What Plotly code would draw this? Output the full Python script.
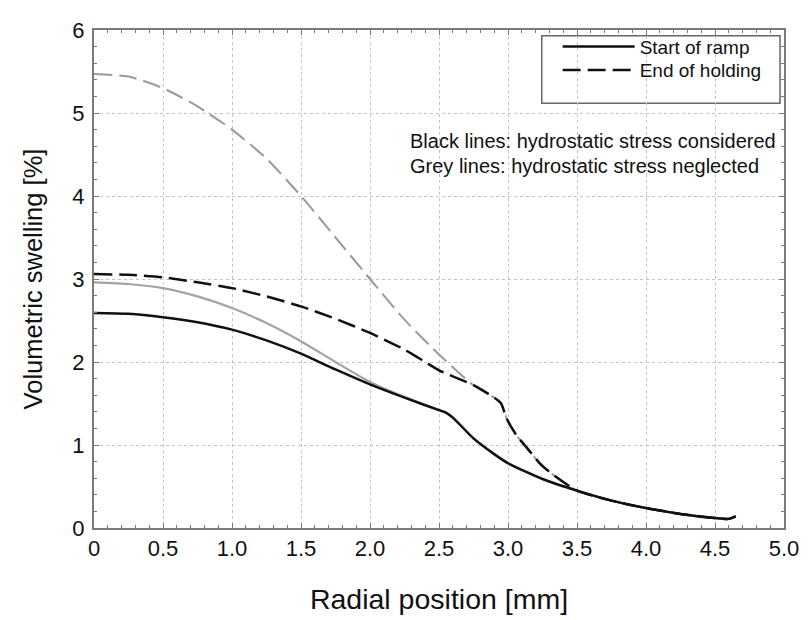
import plotly.graph_objects as go

# Start of ramp, hydrostatic stress considered (black solid)
x_ramp = [0, 0.25, 0.5, 0.75, 1.0, 1.25, 1.5, 1.75, 2.0, 2.25, 2.5, 2.55, 2.6, 2.75,
          2.9, 3.0, 3.25, 3.5, 3.75, 4.0, 4.25, 4.5, 4.6, 4.65]
y_ramp = [2.59, 2.58, 2.54, 2.48, 2.39, 2.26, 2.10, 1.91, 1.73, 1.57, 1.42, 1.39, 1.33, 1.08,
          0.89, 0.78, 0.59, 0.45, 0.33, 0.24, 0.17, 0.12, 0.11, 0.14]

# Start of ramp, hydrostatic stress neglected (grey solid)
x_ramp_ng = [0, 0.25, 0.5, 0.75, 1.0, 1.25, 1.5, 1.75, 2.0, 2.25, 2.5, 2.55, 2.6, 2.75,
             2.9, 3.0, 3.25, 3.5, 3.75, 4.0, 4.25, 4.5, 4.6, 4.65]
y_ramp_ng = [2.96, 2.94, 2.89, 2.79, 2.65, 2.47, 2.25, 2.00, 1.76, 1.58, 1.42, 1.39, 1.33, 1.08,
             0.89, 0.78, 0.59, 0.45, 0.33, 0.24, 0.17, 0.12, 0.11, 0.14]

# End of holding, hydrostatic stress considered (black dashed)
x_hold = [0, 0.25, 0.5, 0.75, 1.0, 1.25, 1.5, 1.75, 2.0, 2.25, 2.4, 2.5, 2.75, 2.9, 2.95,
          2.99, 3.06, 3.13, 3.23, 3.32, 3.5, 3.75, 4.0, 4.25, 4.5, 4.6, 4.65]
y_hold = [3.06, 3.05, 3.02, 2.96, 2.89, 2.79, 2.67, 2.52, 2.35, 2.15, 2.00, 1.90, 1.72, 1.57, 1.50,
          1.32, 1.12, 0.98, 0.78, 0.65, 0.45, 0.33, 0.24, 0.17, 0.12, 0.11, 0.14]

# End of holding, hydrostatic stress neglected (grey dashed)
x_hold_ng = [0, 0.25, 0.5, 0.75, 1.0, 1.25, 1.5, 1.75, 2.0, 2.25, 2.5, 2.75, 2.9, 2.95,
             2.99, 3.06, 3.13, 3.23, 3.32, 3.5, 3.75, 4.0, 4.25, 4.5, 4.6, 4.65]
y_hold_ng = [5.47, 5.44, 5.30, 5.08, 4.80, 4.45, 4.00, 3.50, 3.00, 2.51, 2.09, 1.72, 1.57, 1.50,
             1.32, 1.12, 0.98, 0.78, 0.65, 0.45, 0.33, 0.24, 0.17, 0.12, 0.11, 0.14]

x_ticks = [0, 0.5, 1.0, 1.5, 2.0, 2.5, 3.0, 3.5, 4.0, 4.5, 5.0]
x_ticktext = ['0', '0.5', '1.0', '1.5', '2.0', '2.5', '3.0', '3.5', '4.0', '4.5', '5.0']

FONT = 'Liberation Sans, Arial, sans-serif'
DASH = '18px,7px'
AXIS_GREY = '#7a7a7a'

# page body adds an 8px offset, so the figure is 8px smaller than the window
W, H = 801, 612
L, R, T, B = 86, 20, 10, 92
PW, PH = W - L - R, H - T - B


def px_x(p):
    # window pixel -> paper x
    return (p - 8 - L) / PW


def px_y(p):
    # window pixel -> paper y
    return 1 - (p - 8 - T) / PH


fig = go.Figure()

# grey curves first so the black ones sit on top
fig.add_trace(go.Scatter(x=x_hold_ng, y=y_hold_ng, mode='lines', showlegend=False,
                         line=dict(color='#9a9a9a', width=2, dash=DASH, shape='spline', smoothing=0.6)))
fig.add_trace(go.Scatter(x=x_ramp_ng, y=y_ramp_ng, mode='lines', showlegend=False,
                         line=dict(color='#a3a3a3', width=2.2, shape='spline', smoothing=0.6)))
fig.add_trace(go.Scatter(x=x_ramp, y=y_ramp, mode='lines', name='Start of ramp', legend='legend',
                         line=dict(color='#111111', width=2.5, shape='spline', smoothing=0.6)))
fig.add_trace(go.Scatter(x=x_hold, y=y_hold, mode='lines', name='End of holding', legend='legend2',
                         line=dict(color='#111111', width=2.5, dash=DASH, shape='spline', smoothing=0.6)))

axis_common = dict(
    showgrid=True, griddash='dot', gridcolor='#c4c4c4', gridwidth=1,
    showline=True, linecolor=AXIS_GREY, linewidth=2, mirror='allticks',
    ticks='inside', ticklen=5, tickcolor=AXIS_GREY, tickwidth=1,
    zeroline=False, tickfont=dict(family=FONT, size=22, color='#111'),
    ticklabeloverflow='allow',
)

legend_common = dict(xanchor='left', yanchor='middle', bgcolor='rgba(0,0,0,0)', borderwidth=0,
                     font=dict(size=19), itemwidth=72)

fig.update_layout(
    width=W, height=H,
    margin=dict(l=L, r=R, t=T, b=B),
    plot_bgcolor='white', paper_bgcolor='white',
    font=dict(family=FONT, color='#111'),
    xaxis=dict(range=[0, 5], tickvals=x_ticks, ticktext=x_ticktext,
               minor=dict(ticks='inside', dtick=0.1, ticklen=3, tickcolor=AXIS_GREY, showgrid=False),
               title=dict(text='Radial position [mm]', font=dict(size=28.5), standoff=29),
               **axis_common),
    yaxis=dict(range=[0, 6], dtick=1, ticklabelstandoff=3,
               minor=dict(ticks='inside', dtick=0.2, ticklen=3, tickcolor=AXIS_GREY, showgrid=False),
               title=dict(text='Volumetric swelling [%]', font=dict(size=25.5), standoff=22),
               **axis_common),
    legend=dict(x=px_x(561), y=px_y(35), **legend_common),
    legend2=dict(x=px_x(561), y=px_y(59), **legend_common),
)

# legend frame
fig.add_shape(type='rect', xref='paper', yref='paper',
              x0=px_x(545), x1=px_x(785), y0=px_y(93), y1=px_y(24),
              line=dict(color='#666', width=1.5), fillcolor='white', layer='below')

fig.add_annotation(text='Black lines: hydrostatic stress considered', xref='paper', yref='paper',
                   x=px_x(410), y=px_y(132), xanchor='left', yanchor='middle', showarrow=False,
                   font=dict(size=20))
fig.add_annotation(text='Grey lines: hydrostatic stress neglected', xref='paper', yref='paper',
                   x=px_x(410), y=px_y(157), xanchor='left', yanchor='middle', showarrow=False,
                   font=dict(size=20))

fig.write_html("out.html")
